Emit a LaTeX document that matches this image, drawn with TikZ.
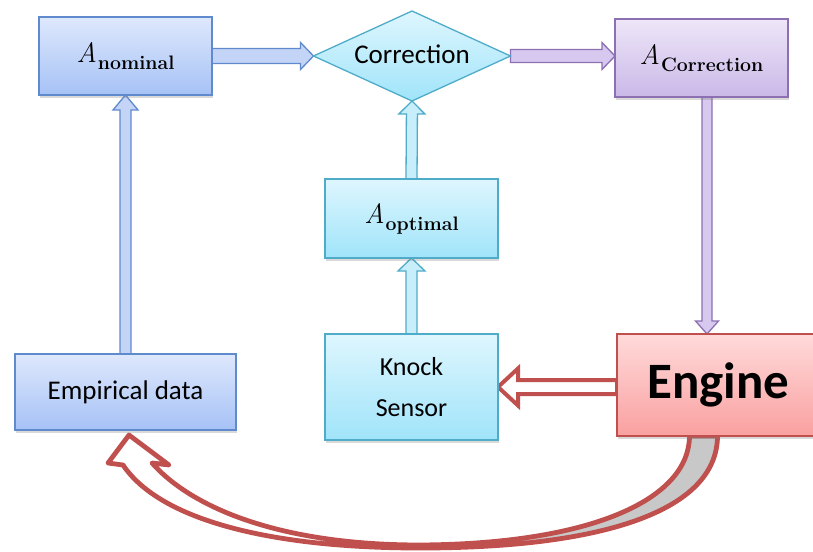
\documentclass[tikz,border=0pt]{standalone}
\usepackage{fontspec}
\newfontfamily\calib{Carlito}
\usetikzlibrary{shapes.geometric,calc,shadows,backgrounds}

% palette
\definecolor{bluetop}{RGB}{222,232,252}
\definecolor{bluebot}{RGB}{166,194,246}
\definecolor{blueedge}{RGB}{96,138,206}
\definecolor{bluearrowfill}{RGB}{196,212,246}
\definecolor{cyantop}{RGB}{222,246,254}
\definecolor{cyanbot}{RGB}{160,228,250}
\definecolor{cyanedge}{RGB}{78,172,200}
\definecolor{cyanarrowfill}{RGB}{200,238,251}
\definecolor{purpletop}{RGB}{238,230,248}
\definecolor{purplebot}{RGB}{202,184,232}
\definecolor{purpleedge}{RGB}{140,112,178}
\definecolor{purplearrowfill}{RGB}{214,200,238}
\definecolor{redtop}{RGB}{255,218,218}
\definecolor{redbot}{RGB}{250,160,160}
\definecolor{rededge}{RGB}{192,80,77}
\definecolor{ribbongray}{RGB}{200,200,200}

% block arrow from #2 to #3: #4 shaft half width, #5 head half width, #6 head length
\newcommand\fatarrow[6]{%
  \coordinate (fab) at ($(#3)!#6!(#2)$);
  \draw[#1] ($(#2)!#4!90:(#3)$) -- ($(fab)!#4!90:(#3)$) -- ($(fab)!#5!90:(#3)$) -- (#3)
    -- ($(fab)!#5!-90:(#3)$) -- ($(fab)!#4!-90:(#3)$) -- ($(#2)!#4!-90:(#3)$) -- cycle;}

% subscripted quantity label
\newcommand\Aq[1]{\textit{A}\kern1pt\raisebox{-7pt}{\fontsize{19.5}{20}\selectfont\bfseries #1}}

% curved return arrow from the engine to the empirical data
\newcommand\ribbonpath{%
  (rO) .. controls (717,512) and (600,548) .. (420,548)
  .. controls (270,548) and (160,520) .. (123,465)
  -- (108,463) -- (tip) -- (169,465) -- (152,463)
  .. controls (192,508) and (280,545) .. (420,545)
  .. controls (590,544) and (689,500) .. (rI) -- cycle}

\begin{document}
\begin{tikzpicture}[x=1pt,y=-1pt,
  blockbase/.style={rectangle, line width=1.3pt, inner sep=0pt, outer sep=0pt,
    drop shadow={opacity=0.3, shadow xshift=1pt, shadow yshift=-3pt}},
  bluebox/.style={blockbase, draw=blueedge, top color=bluetop, bottom color=bluebot},
  cyanbox/.style={blockbase, draw=cyanedge, top color=cyantop, bottom color=cyanbot},
  purplebox/.style={blockbase, draw=purpleedge, top color=purpletop, bottom color=purplebot},
  redbox/.style={blockbase, draw=rededge, top color=redtop, bottom color=redbot},
  labelA/.style={font=\fontsize{28}{30}\selectfont},
  bluearrow/.style={draw=blueedge, fill=bluearrowfill, line width=1.3pt, line join=miter},
  cyanarrow/.style={draw=cyanedge, fill=cyanarrowfill, line width=1.3pt, line join=miter},
  purplearrow/.style={draw=purpleedge, fill=purplearrowfill, line width=1.3pt, line join=miter},
  redarrow/.style={draw=rededge, fill=white, line width=4pt, line join=miter},
  ribbonline/.style={draw=rededge, line width=4.8pt, line join=round}]

\useasboundingbox (0,0) rectangle (813,551);

% blocks
\node[bluebox, minimum width=173pt, minimum height=78pt, labelA] (anom) at (125.5,56) {\Aq{nominal}};
\node[diamond, aspect=2.2, line width=1.3pt, draw=cyanedge, top color=cyantop, bottom color=cyanbot,
  minimum width=197pt, minimum height=90pt, inner sep=0pt, outer sep=0pt,
  font=\calib\fontsize{27}{30}\selectfont] (corr) at (412,56) {\raisebox{3pt}{Correction}};
\node[purplebox, minimum width=173pt, minimum height=78pt, labelA] (acorr) at (701.5,58) {\Aq{Correction}};
\node[cyanbox, minimum width=173pt, minimum height=79pt, labelA] (aopt) at (411.5,218.5) {\Aq{optimal}};
\node[cyanbox, minimum width=173pt, minimum height=106pt, align=center,
  font=\calib\fontsize{26}{41}\selectfont] (knock) at (411.5,387) {Knock\\Sensor};
\node[bluebox, minimum width=221pt, minimum height=76pt,
  font=\calib\fontsize{27}{30}\selectfont] (emp) at (125.5,392) {Empirical data};
\node[redbox, minimum width=203pt, minimum height=102pt,
  font=\calib\bfseries\fontsize{51}{55}\selectfont] (engine) at (718.5,385) {Engine};

% connectors, kept beneath the blocks
\coordinate (dn) at (707,0);
\begin{scope}[on background layer]
  \fatarrow{bluearrow}{anom.east}{corr.west}{7.5pt}{13.5pt}{13pt}
  \fatarrow{purplearrow}{corr.east}{acorr.west |- corr.east}{6.5pt}{13.5pt}{13pt}
  \fatarrow{bluearrow}{emp.north}{anom.south}{5.5pt}{12.5pt}{15pt}
  \fatarrow{cyanarrow}{aopt.north}{corr.south}{5.5pt}{13pt}{13pt}
  \fatarrow{cyanarrow}{knock.north}{aopt.south}{5.5pt}{13.5pt}{13pt}
  \fatarrow{purplearrow}{acorr.south -| dn}{engine.north -| dn}{5pt}{11.5pt}{13pt}
  \fatarrow{redarrow}{engine.west |- knock.east}{knock.east}{7pt}{18.5pt}{20pt}

  % curved return arrow from the engine to the empirical data
  \coordinate (rO) at ($(engine.south)+(-1,0)$);
  \coordinate (rI) at ($(engine.south)+(-29,0)$);
  \coordinate (tip) at ($(emp.south)+(3.5,5)$);
  \fill[white] \ribbonpath;
  \begin{scope}
    \clip (420,400) rectangle (813,551);
    \fill[ribbongray] \ribbonpath;
  \end{scope}
  \path[ribbonline] \ribbonpath;
\end{scope}
\end{tikzpicture}
\end{document}
